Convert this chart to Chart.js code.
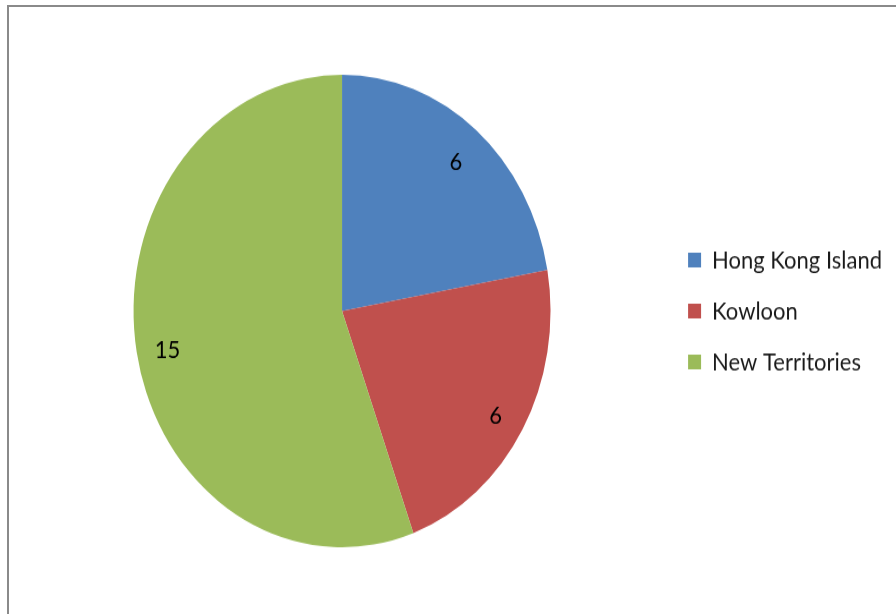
<!DOCTYPE html>
<html>
<head>
<meta charset="utf-8">
<script src="https://cdn.jsdelivr.net/npm/chart.js@4/dist/chart.umd.min.js"></script>
<style>
  html, body { margin: 0; padding: 0; background: #fff; overflow: hidden; }
  #frame {
    position: absolute; left: 7px; top: 5px; width: 900px; height: 620px;
    border-left: 2px solid #8a8a8a; border-top: 2px solid #8a8a8a;
    box-sizing: border-box;
  }
  #wrap {
    position: absolute; left: 0; top: 0; width: 896px; height: 542px;
    transform: scaleY(1.133); transform-origin: 0 0;
  }
  canvas { display: block; }
</style>
</head>
<body>
<div id="frame"></div>
<div id="wrap"><canvas id="c" width="896" height="542"></canvas></div>
<script>
// Regions and counts
const regions = ['Hong Kong Island', 'Kowloon', 'New Territories'];
const counts = [6, 6, 15];
const sliceColors = ['#4F81BD', '#C0504D', '#9BBB59'];

// Writes each slice's value inside the slice, along its middle angle
const sliceValueLabels = {
  id: 'sliceValueLabels',
  afterDatasetsDraw(chart) {
    const ctx = chart.ctx;
    const meta = chart.getDatasetMeta(0);
    ctx.save();
    ctx.font = '22px Lato';
    ctx.fillStyle = '#000';
    ctx.textAlign = 'center';
    ctx.textBaseline = 'middle';
    meta.data.forEach((arc, i) => {
      const p = arc.getProps(['x', 'y', 'startAngle', 'endAngle', 'outerRadius'], true);
      const mid = (p.startAngle + p.endAngle) / 2;
      const r = p.outerRadius * 0.85;
      ctx.fillText(String(chart.data.datasets[0].data[i]), p.x + Math.cos(mid) * r, p.y + Math.sin(mid) * r + 4);
    });
    ctx.restore();
  }
};

new Chart(document.getElementById('c'), {
  type: 'pie',
  data: {
    labels: regions,
    datasets: [{
      data: counts,
      backgroundColor: sliceColors,
      borderWidth: 0
    }]
  },
  options: {
    responsive: false,
    animation: false,
    layout: { padding: { left: 19, right: 4, top: 66, bottom: 59 } },
    plugins: {
      tooltip: { enabled: false },
      legend: {
        position: 'right',
        labels: {
          boxWidth: 13,
          boxHeight: 13,
          padding: 23,
          color: '#1a1a1a',
          font: { family: 'Lato', size: 22 }
        }
      }
    }
  },
  plugins: [sliceValueLabels]
});
</script>
</body>
</html>
